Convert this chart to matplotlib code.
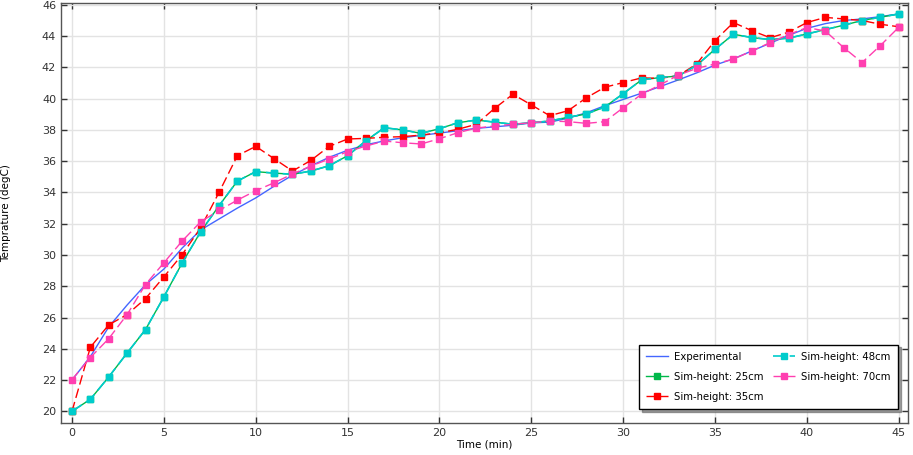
import numpy as np
import matplotlib
matplotlib.use("Agg")
import matplotlib.pyplot as plt

t = list(range(46))

experimental = [22.0, 23.5, 25.4, 26.8, 28.1, 29.1, 30.45, 31.6, 32.3, 33.0,
                33.65, 34.4, 35.1, 35.7, 36.25, 36.7, 37.05, 37.3, 37.5, 37.65,
                37.8, 37.95, 38.1, 38.2, 38.3, 38.45, 38.5, 38.75, 39.1, 39.55,
                39.95, 40.35, 40.77, 41.2, 41.65, 42.15, 42.55, 43.05, 43.55, 44.05,
                44.5, 44.8, 45.0, 45.1, 45.25, 45.42]

h48 = [20.0, 20.77, 22.2, 23.73, 25.23, 27.32, 29.5, 31.48, 33.15, 34.73,
       35.33, 35.24, 35.16, 35.37, 35.71, 36.35, 37.31, 38.14, 38.0, 37.78,
       38.08, 38.46, 38.63, 38.5, 38.36, 38.46, 38.57, 38.81, 39.02, 39.47,
       40.32, 41.2, 41.35, 41.45, 42.14, 43.16, 44.12, 43.91, 43.78, 43.87,
       44.14, 44.42, 44.7, 45.0, 45.21, 45.42]

h25 = list(h48)  # hidden under the 48cm curve in the reference

h35 = [20.0, 24.1, 25.53, 26.19, 27.21, 28.6, 30.03, 31.74, 34.0, 36.35,
       36.95, 36.16, 35.37, 36.05, 36.95, 37.42, 37.46, 37.53, 37.57, 37.67,
       37.82, 38.04, 38.36, 39.38, 40.28, 39.6, 38.91, 39.23, 40.06, 40.73,
       41.03, 41.33, 41.3, 41.47, 42.22, 43.72, 44.87, 44.35, 43.9, 44.25,
       44.87, 45.2, 45.1, 45.0, 44.76, 44.6]

h70 = [22.03, 23.44, 24.65, 26.19, 28.11, 29.5, 30.9, 32.12, 32.85, 33.51,
       34.11, 34.62, 35.18, 35.69, 36.14, 36.61, 36.97, 37.29, 37.18, 37.1,
       37.44, 37.82, 38.12, 38.25, 38.36, 38.46, 38.57, 38.53, 38.42, 38.53,
       39.42, 40.28, 40.88, 41.5, 41.94, 42.22, 42.53, 43.05, 43.59, 44.1,
       44.55, 44.33, 43.27, 42.31, 43.4, 44.57]

plt.rcParams['font.family'] = ['DejaVu Sans']
fig = plt.figure(figsize=(9.13, 4.55), dpi=100)
ax = fig.add_axes([0.0668, 0.0703, 0.9277, 0.9231])

dash = (0, (7, 3))
ax.plot(t, experimental, color='#4466ff', lw=1.0, label='Experimental')
ax.plot(t, h25, color='#00b84a', lw=1.0, marker='s', ms=4, label='Sim-height: 25cm')
ax.plot(t, h35, color='#ff0000', lw=1.0, ls=dash, marker='s', ms=4.5, label='Sim-height: 35cm')
ax.plot(t, h48, color='#00cccc', lw=1.2, ls=dash, marker='s', ms=4.5, label='Sim-height: 48cm')
ax.plot(t, h70, color='#ff3fb0', lw=1.0, ls=dash, marker='s', ms=4, label='Sim-height: 70cm')

ax.set_xlim(-0.6, 45.5)
ax.set_ylim(19.25, 46.12)
ax.set_xticks(range(0, 46, 5))
ax.set_yticks(range(20, 47, 2))
ax.grid(True, color='#e3e3e3', lw=1.0)
ax.set_axisbelow(True)
ax.tick_params(direction='in', length=4, width=1, labelsize=8, colors='#333333',
               top=True, right=True)
for s in ax.spines.values():
    s.set_color('#555555')
    s.set_linewidth(1.0)

ax.set_xlabel('Time (min)', fontsize=7.5, labelpad=1)
ax.set_ylabel('Temprature (degC)', fontsize=7.5, labelpad=22)

leg = ax.legend(loc='lower right', bbox_to_anchor=(0.994, 0.021), ncol=2,
                fontsize=7.3, frameon=True, fancybox=False, shadow=True,
                edgecolor='black', handlelength=2.2, handletextpad=0.6,
                columnspacing=0.9, borderpad=0.7, labelspacing=1.0)
leg.get_frame().set_linewidth(1.0)

fig.savefig('out.png', dpi=100)
